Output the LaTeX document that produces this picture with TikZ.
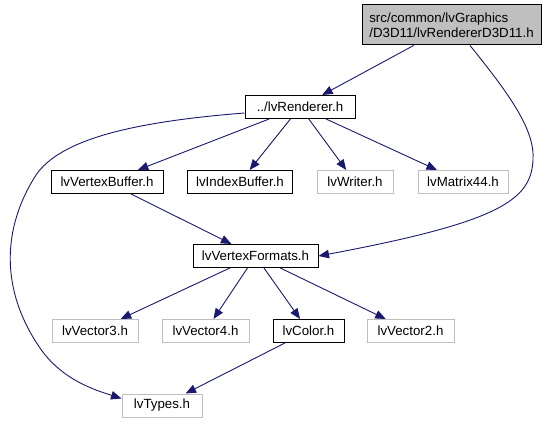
\documentclass[tikz,border=0pt]{standalone}
\usepackage{fontspec}
\setmainfont{Liberation Sans}
\usetikzlibrary{positioning,arrows.meta,calc}
\definecolor{edgeblue}{HTML}{191970}
\definecolor{extgray}{HTML}{BFBFBF}
\tikzset{
  filebox/.style={draw=black, line width=1pt, rectangle, minimum height=23pt, inner xsep=2pt, inner ysep=2pt, font=\fontsize{13.3}{15.5}\selectfont},
  extbox/.style={filebox, draw=extgray},
  dep/.style={->, >={Triangle[length=10.5pt,width=8.5pt]}, draw=edgeblue, line width=0.9pt}
}
\begin{document}
\begin{tikzpicture}[x=1pt, y=-1pt]
\useasboundingbox (0,0) rectangle (545,425);

% Nodes
\node[filebox, fill=extgray, minimum width=179pt, minimum height=40pt, align=left] (top) at (451.5,25) {src/common/lvGraphics\\/D3D11/lvRendererD3D11.h};
\node[filebox, minimum width=110pt] (rend) at (300,107) {../lvRenderer.h};

\node[filebox, minimum width=112pt] (vbuf) at (107,182) {lvVertexBuffer.h};
\node[filebox, minimum width=105pt] (ibuf) at (240,182) {lvIndexBuffer.h};
\node[extbox, minimum width=76pt] (writer) at (355,182) {lvWriter.h};
\node[extbox, minimum width=90pt] (mat44) at (463,182) {lvMatrix44.h};

\node[filebox, minimum width=125pt] (vfmt) at (255.5,256) {lvVertexFormats.h};

% Bottom row
\node[extbox, minimum width=86pt] (vec3) at (95,331) {lvVector3.h};
\node[extbox, minimum width=87pt] (vec4) at (205.5,331) {lvVector4.h};
\node[filebox, minimum width=71pt] (color) at (308.5,331) {lvColor.h};
\node[extbox, minimum width=87pt] (vec2) at (410.5,331) {lvVector2.h};

\node[extbox, minimum width=80pt] (types) at (162,405.5) {lvTypes.h};

% Arrows
\draw[dep] (top) -- (rend);
\draw[dep] (top.south) ++(18.5,0) .. controls (510,95) and (535,130) .. (533,160)
  .. controls (531,200) and (500,222) .. (vfmt.east);
\draw[dep] (rend) -- (vbuf);
\draw[dep] (rend) -- (ibuf);
\draw[dep] (rend) -- (writer);
\draw[dep] (rend) -- (mat44);
\draw[dep] (rend.west) ++(0,6) .. controls (130,122) and (60,140) .. (36,175)
  .. controls (2,228) and (0,290) .. (40,348)
  .. controls (62,380) and (95,390) .. ($(types.north west)+(0,5)$);
\draw[dep] (vbuf) -- (vfmt);
\draw[dep] (vfmt) -- (vec3);
\draw[dep] (vfmt) -- (vec4);
\draw[dep] (vfmt) -- (color);
\draw[dep] (vfmt) -- (vec2);
\draw[dep] (color) -- (types);

\end{tikzpicture}
\end{document}
